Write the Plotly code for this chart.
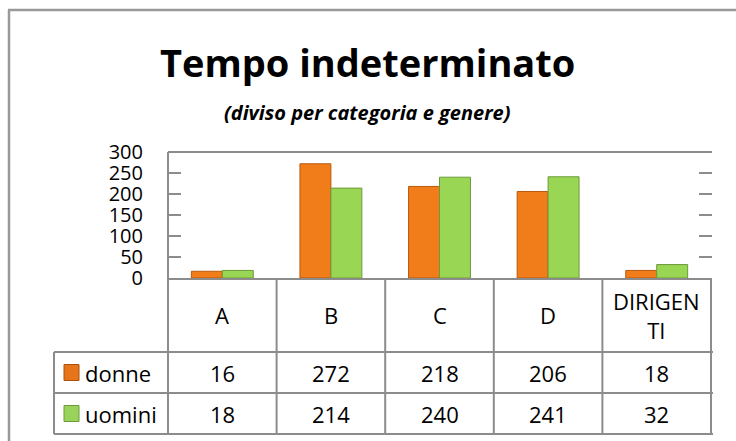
import plotly.graph_objects as go

categories = ["A", "B", "C", "D", "DIRIGENTI"]
category_labels = ["A", "B", "C", "D", "DIRIGEN<br>TI"]
donne = [16, 272, 218, 206, 18]
uomini = [18, 214, 240, 241, 32]
series_names = ["donne", "uomini"]
y_ticks = [0, 50, 100, 150, 200, 250, 300]

W, H = 736, 441
FONT = "Open Sans"
GRAY = "#8c8c8c"

def px(x):
    return x / W

def py(y):
    return 1 - y / H

fig = go.Figure()
fig.add_trace(go.Bar(x=categories, y=donne, name=series_names[0],
                     marker=dict(color="#F07D1A", line=dict(color="#B85A0E", width=1))))
fig.add_trace(go.Bar(x=categories, y=uomini, name=series_names[1],
                     marker=dict(color="#99D654", line=dict(color="#6E9A3A", width=1))))

shapes = []
# outer frame (top and left edges visible)
shapes.append(dict(type="line", xref="paper", yref="paper", x0=px(8), x1=px(736), y0=py(10), y1=py(10),
                   line=dict(color="#999999", width=2.5), layer="below"))
shapes.append(dict(type="line", xref="paper", yref="paper", x0=px(9), x1=px(9), y0=py(10), y1=py(441),
                   line=dict(color="#999999", width=2.5), layer="below"))
# top border of plot area
shapes.append(dict(type="line", xref="paper", yref="paper", x0=px(168), x1=px(712), y0=py(152), y1=py(152),
                   line=dict(color=GRAY, width=2)))
# left vertical line (axis + table)
shapes.append(dict(type="line", xref="paper", yref="paper", x0=px(168), x1=px(168), y0=py(152), y1=py(434),
                   line=dict(color=GRAY, width=2)))
# vertical separators between categories in table
for i in range(len(categories)):
    shapes.append(dict(type="line", xref="x", yref="paper", x0=i + 0.5, x1=i + 0.5, y0=py(278), y1=py(434),
                       line=dict(color=GRAY, width=2)))
# table horizontal lines
for yy in [352, 393, 434]:
    shapes.append(dict(type="line", xref="paper", yref="paper", x0=px(54), x1=px(713), y0=py(yy), y1=py(yy),
                       line=dict(color=GRAY, width=2)))
# label column left border
shapes.append(dict(type="line", xref="paper", yref="paper", x0=px(54), x1=px(54), y0=py(352), y1=py(434),
                   line=dict(color=GRAY, width=2)))
# legend keys
key_colors = [("#E8741A", "#A9520C"), ("#9AD35A", "#6E9A3A")]
row_centers = [372.5, 413.5]
for (fc, lc), yc in zip(key_colors, row_centers):
    shapes.append(dict(type="rect", xref="paper", yref="paper", x0=px(64), x1=px(79),
                       y0=py(yc + 8), y1=py(yc - 8), fillcolor=fc, line=dict(color=lc, width=1)))

annotations = []
annotations.append(dict(text="<b>Tempo indeterminato</b>", xref="paper", yref="paper", x=px(367), y=py(62),
                        showarrow=False, font=dict(family=FONT, size=38, color="black"),
                        xanchor="center", yanchor="middle"))
annotations.append(dict(text="<b><i>(diviso per categoria e genere)</i></b>", xref="paper", yref="paper",
                        x=px(367), y=py(112), showarrow=False, font=dict(family=FONT, size=20, color="black"),
                        xanchor="center", yanchor="middle"))
for cat, lab in zip(categories, category_labels):
    annotations.append(dict(text=lab, xref="x", yref="paper", x=cat, y=py(315), showarrow=False,
                            font=dict(family=FONT, size=22, color="black"), xanchor="center", yanchor="middle"))
for name, vals, yc in zip(series_names, [donne, uomini], row_centers):
    annotations.append(dict(text=name, xref="paper", yref="paper", x=px(83), y=py(yc), showarrow=False,
                            font=dict(family=FONT, size=22, color="black"), xanchor="left", yanchor="middle"))
    for cat, v in zip(categories, vals):
        annotations.append(dict(text=str(v), xref="x", yref="paper", x=cat, y=py(yc), showarrow=False,
                                font=dict(family=FONT, size=22, color="black"), xanchor="center", yanchor="middle"))

fig.update_layout(
    width=W, height=H, autosize=False,
    margin=dict(l=0, r=0, t=0, b=0, pad=0, autoexpand=False),
    paper_bgcolor="white", plot_bgcolor="white",
    showlegend=False,
    barmode="group", bargap=0.43, bargroupgap=0,
    font=dict(family=FONT, color="black"),
    xaxis=dict(domain=[px(168), px(712)], showticklabels=False, ticks="", showgrid=False, automargin=False,
               showline=True, linecolor=GRAY, linewidth=2, zeroline=False, fixedrange=True),
    yaxis=dict(domain=[py(278), py(152)], range=[0, 300], tickvals=y_ticks, ticks="inside", ticklen=13,
               tickcolor=GRAY, tickwidth=2, mirror="ticks", showline=False, showgrid=False, zeroline=False,
               automargin=False,
               tickfont=dict(family=FONT, size=20, color="black"), ticklabelstandoff=24),
    shapes=shapes, annotations=annotations,
)

fig.write_html("out.html",
               config={"displayModeBar": False},
               post_script="document.body.style.margin='0';document.body.style.overflow='hidden';")
